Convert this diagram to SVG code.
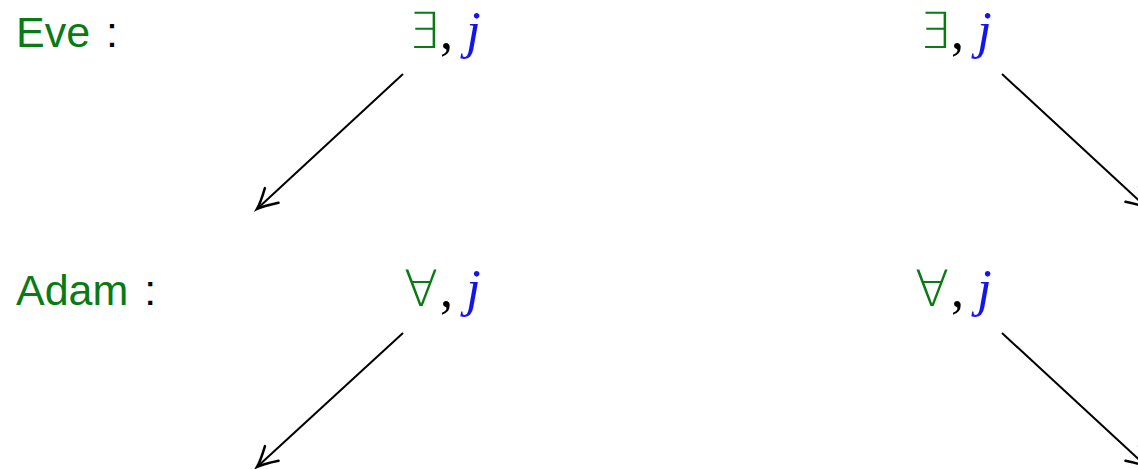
<svg xmlns="http://www.w3.org/2000/svg" width="1138" height="469" viewBox="0 0 1138 469">
<style>
.lbl{font-family:"Liberation Sans",Arial,sans-serif;font-size:43px}
.g{fill:#0a7a14}
.k{fill:#000}
.q{font-family:"DejaVu Sans","DejaVu Serif",serif;font-size:50px;font-weight:200;fill:#0a7a14}
.cm{font-family:"Liberation Serif","Times New Roman",serif;font-size:52px;fill:#000}
.j{font-family:"Liberation Serif","Times New Roman",serif;font-size:53px;font-style:italic;fill:#1414f0}
.edge{stroke:#000;stroke-width:2;fill:none;marker-end:url(#ah)}
</style>
<defs>
<marker id="ah" markerUnits="userSpaceOnUse" markerWidth="30" markerHeight="30" viewBox="-20 -12 24 24" refX="0" refY="0" orient="auto" overflow="visible">
<path d="M -16,-8 Q -5,-1.5 0,0 Q -5,1.5 -16,8" stroke="#000" stroke-width="2" fill="none" stroke-linecap="round"/>
</marker>
</defs>
<g id="eve-label"><text class="lbl" x="16" y="47"><tspan class="g">Eve</tspan><tspan class="k" dx="4"> :</tspan></text></g>
<g id="adam-label"><text class="lbl" x="16" y="305"><tspan class="g">Adam</tspan><tspan class="k" dx="4"> :</tspan></text></g>
<g id="eve-left"><text class="q" x="408" y="48">∃</text><text class="cm" x="440" y="48">,</text><text class="j" x="466" y="48">j</text></g>
<g id="eve-right"><text class="q" x="919" y="48">∃</text><text class="cm" x="951" y="48">,</text><text class="j" x="977" y="48">j</text></g>
<g id="adam-left"><text class="q" x="404" y="306">∀</text><text class="cm" x="440" y="306">,</text><text class="j" x="466" y="306">j</text></g>
<g id="adam-right"><text class="q" x="915" y="306">∀</text><text class="cm" x="951" y="306">,</text><text class="j" x="977" y="306">j</text></g>
<g id="connectors">
<line class="edge" x1="403" y1="74" x2="257" y2="209"/>
<line class="edge" x1="1002" y1="74" x2="1147" y2="208"/>
<line class="edge" x1="403" y1="333" x2="257" y2="467"/>
<line class="edge" x1="1002" y1="333" x2="1147" y2="467"/>
</g>
</svg>
